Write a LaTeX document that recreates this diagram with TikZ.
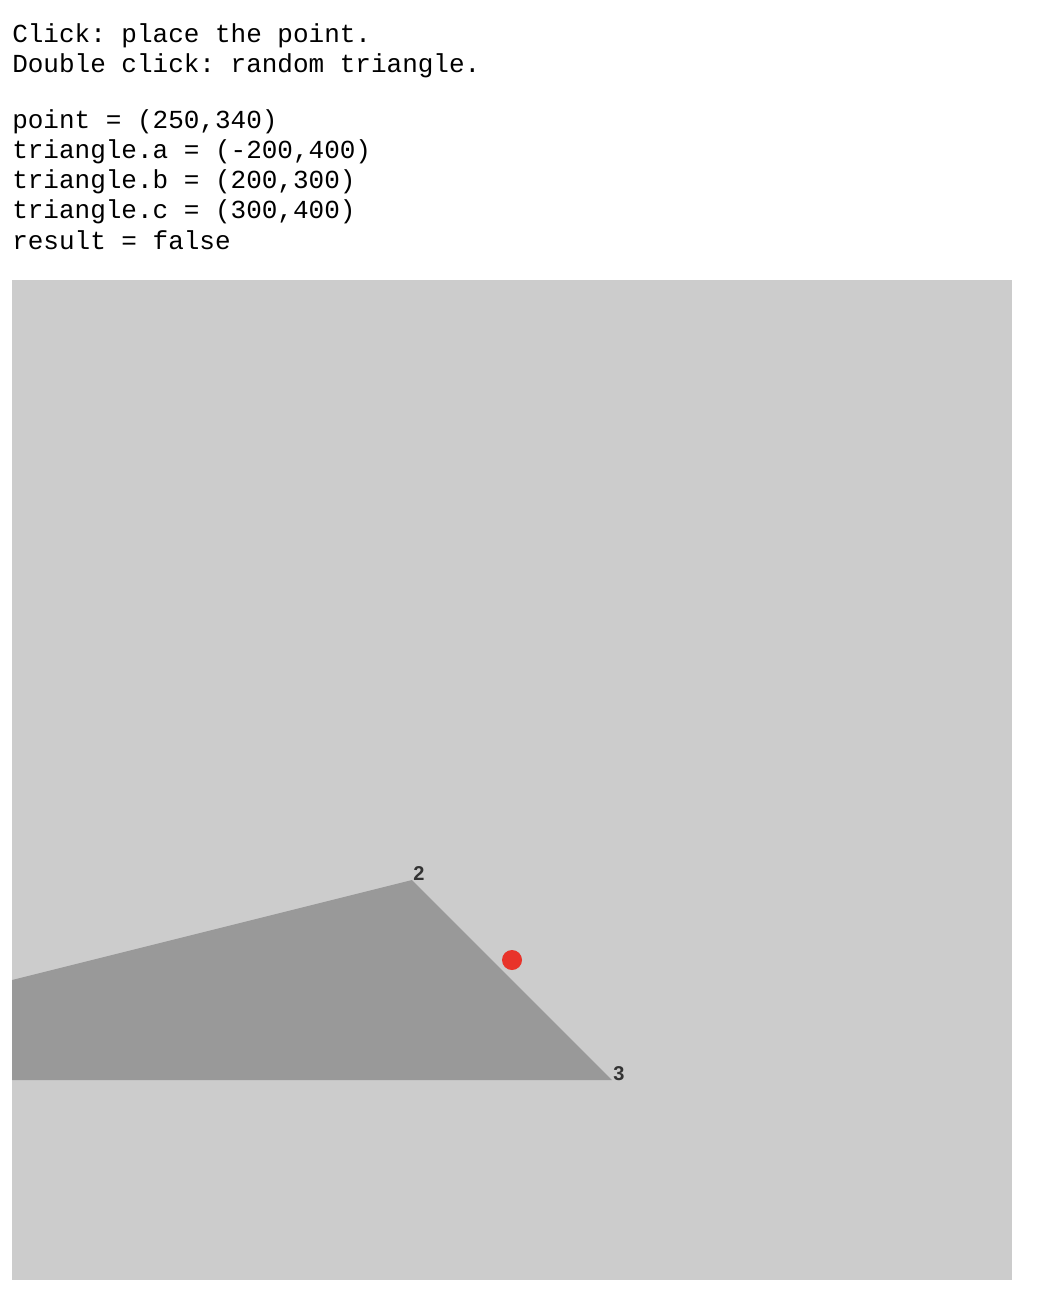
\documentclass[tikz,border=0pt]{standalone}
\usepackage{fontspec}
\setmonofont{Liberation Mono}
\setsansfont{Liberation Sans}
\definecolor{canvasgray}{HTML}{CCCCCC}
\definecolor{shapegray}{HTML}{999999}
\definecolor{pointred}{HTML}{E8332A}
\tikzset{
  infotext/.style={anchor=base west, inner sep=0pt, font=\fontsize{19.5}{22.5}\selectfont\ttfamily},
  vertexlabel/.style={anchor=base west, inner sep=0pt, xshift=0.75pt, font=\fontsize{15}{17}\selectfont\sffamily\bfseries, text=black!80}
}
\begin{document}
\begin{tikzpicture}[x=0.75pt,y=-0.75pt]
				\useasboundingbox (0,0) rectangle (1050,1298);
				%Texts
				\node[infotext] (help1)  at (12,43)  {Click: place the point.};
				\node[infotext] (help2)  at (12,73)  {Double click: random triangle.};
				\node[infotext] (point)  at (12,129) {point = (250,340)};
				\node[infotext] (triA)   at (12,159) {triangle.a = (-200,400)};
				\node[infotext] (triB)   at (12,189) {triangle.b = (200,300)};
				\node[infotext] (triC)   at (12,219) {triangle.c = (300,400)};
				\node[infotext] (result) at (12,249) {result = false};
				
				%Coordinates
				\coordinate      (a) 	at 	(-388,1080);
				\coordinate      (b) 	at 	(412,880);
				\coordinate      (c) 	at 	(612,1080);
				\coordinate      (p) 	at 	(512,960);
				
				%Canvas
				\fill[canvasgray] (12,280) rectangle (1012,1280);
				\begin{scope}
					\clip (12,280) rectangle (1012,1280);
					\fill[shapegray] (a) -- (b) -- (c) -- cycle;
				\end{scope}
				\node[vertexlabel] (labelB) at (b) {2};
				\node[vertexlabel] (labelC) at (c) {3};
				\fill[pointred] (p) circle (10);
		\end{tikzpicture}
\end{document}
